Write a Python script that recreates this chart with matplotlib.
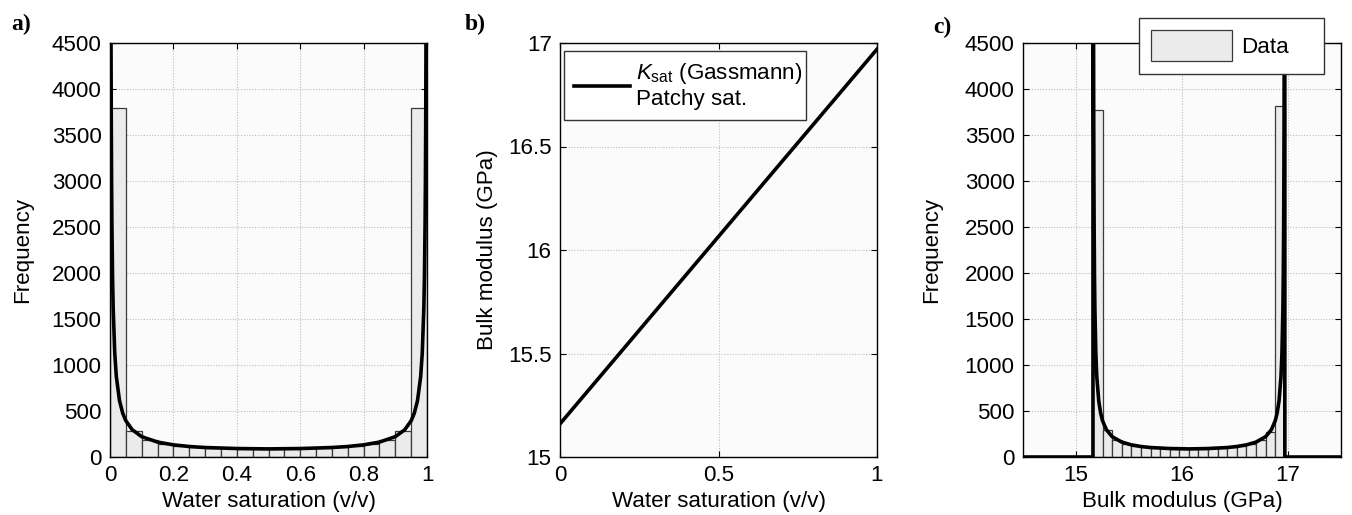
import numpy as np
import matplotlib
matplotlib.use('Agg')
import matplotlib.pyplot as plt

# ---------------- data ----------------
# a) histogram of water saturation, 20 bins on [0, 1]
sw_bin_lo, sw_bin_hi, n_bins = 0.0, 1.0, 20
sw_counts = [3790, 285, 188, 146, 122, 108, 100, 95, 91, 89,
             89, 91, 95, 100, 108, 122, 146, 188, 285, 3790]

# fitted density curve (frequency per bin) vs water saturation
curve_sw = [0.001, 0.002, 0.003, 0.004, 0.005, 0.006, 0.008, 0.01, 0.015, 0.02,
            0.03, 0.04, 0.05, 0.07, 0.1, 0.15, 0.2, 0.25, 0.3, 0.4, 0.5,
            0.6, 0.7, 0.75, 0.8, 0.85, 0.9, 0.93, 0.95, 0.96, 0.97, 0.98,
            0.985, 0.99, 0.992, 0.994, 0.995, 0.996, 0.997, 0.998, 0.999]
curve_freq = [12700, 6830, 4740, 3660, 3000, 2550, 1970, 1616, 1127, 873,
              612, 477, 394, 297, 221, 162, 132, 114, 103, 92, 88,
              92, 103, 114, 132, 162, 221, 297, 394, 477, 612, 873,
              1127, 1616, 1970, 2550, 3000, 3660, 4740, 6830, 12700]

# b) K_sat (Gassmann, patchy saturation) vs water saturation
line_sw = [0.0, 1.0]
line_k = [15.16, 16.97]

# c) histogram of bulk modulus, 20 bins on [K_min, K_max]
k_bin_lo, k_bin_hi = 15.16, 16.97
k_counts = [3775, 293, 190, 146, 122, 108, 100, 95, 91, 89,
            89, 91, 95, 100, 108, 122, 146, 188, 275, 3810]

# density curve vs bulk modulus (zero outside the support)
curve_k = [14.5, 15.16, 15.16,
           15.1618, 15.1636, 15.1654, 15.1672, 15.169, 15.1709, 15.1745, 15.1781,
           15.1872, 15.1962, 15.2143, 15.2324, 15.2505, 15.2867, 15.341, 15.4315,
           15.522, 15.6125, 15.703, 15.884, 16.065, 16.246, 16.427, 16.5175,
           16.608, 16.6985, 16.789, 16.8433, 16.8795, 16.8976, 16.9157, 16.9338,
           16.9428, 16.9519, 16.9555, 16.9591, 16.961, 16.9628, 16.9646, 16.9664,
           16.9682,
           16.97, 16.97, 17.5]
curve_k_freq = [0, 0, 20000] + curve_freq + [20000, 0, 0]

freq_ticks = [0, 500, 1000, 1500, 2000, 2500, 3000, 3500, 4000, 4500]
sw_ticks_a = [0, 0.2, 0.4, 0.6, 0.8, 1]
sw_ticklabels_a = ['0', '0.2', '0.4', '0.6', '0.8', '1']
sw_ticks_b = [0, 0.5, 1]
sw_ticklabels_b = ['0', '0.5', '1']
k_ticks_b = [15, 15.5, 16, 16.5, 17]
k_ticklabels_b = ['15', '15.5', '16', '16.5', '17']
k_ticks_c = [15, 16, 17]
k_ticklabels_c = ['15', '16', '17']

# ---------------- style ----------------
plt.rcParams['font.family'] = ['Liberation Sans', 'DejaVu Sans']
plt.rcParams['mathtext.fontset'] = 'custom'
plt.rcParams['mathtext.rm'] = 'Liberation Sans'
plt.rcParams['mathtext.it'] = 'Liberation Sans:italic'
FS = 16.1
W, H = 1352, 515
fig = plt.figure(figsize=(W / 100, H / 100), dpi=100)

AX_BG = '#fbfbfb'
BAR_FC = '#ebebeb'
BAR_EC = '#3a3a3a'
GRID_KW = dict(color='#bdbdbd', linestyle=(0, (1, 1.5)), linewidth=0.8)
CURVE_LW = 2.6


def make_ax(left_px, width_px):
    ax = fig.add_axes([left_px / W, (H - 457) / H, width_px / W, 414 / H])
    ax.set_facecolor(AX_BG)
    ax.set_axisbelow(True)
    ax.grid(True, **GRID_KW)
    ax.tick_params(direction='in', length=4, width=0.8, top=True, right=True,
                   labelsize=FS, pad=6)
    for s in ax.spines.values():
        s.set_linewidth(1.0)
        s.set_color('black')
    return ax


def fig_pix_bbox(x0, y0, x1, y1):
    return (x0 / W, 1 - y1 / H, (x1 - x0) / W, (y1 - y0) / H)


# ---------------- a) ----------------
axa = make_ax(110, 317)
edges_a = np.linspace(sw_bin_lo, sw_bin_hi, n_bins + 1)
axa.bar(edges_a[:-1], sw_counts, width=np.diff(edges_a), align='edge',
        color=BAR_FC, edgecolor=BAR_EC, linewidth=0.9, zorder=2)
axa.plot(curve_sw, curve_freq, color='black', lw=CURVE_LW, zorder=3,
         solid_joinstyle='round')
axa.set_xlim(0, 1)
axa.set_ylim(0, 4500)
axa.set_xticks(sw_ticks_a, sw_ticklabels_a)
axa.set_yticks(freq_ticks)
axa.set_xlabel('Water saturation (v/v)', fontsize=FS, labelpad=3)
axa.set_ylabel('Frequency', fontsize=FS, labelpad=13)

# ---------------- b) ----------------
axb = make_ax(560, 317)
axb.plot(line_sw, line_k, color='black', lw=CURVE_LW,
         label='$K_{\\mathrm{sat}}$ (Gassmann)\nPatchy sat.')
axb.set_xlim(0, 1)
axb.set_ylim(15, 17)
axb.set_xticks(sw_ticks_b, sw_ticklabels_b)
axb.set_yticks(k_ticks_b, k_ticklabels_b)
axb.set_xlabel('Water saturation (v/v)', fontsize=FS, labelpad=3)
axb.set_ylabel('Bulk modulus (GPa)', fontsize=FS, labelpad=7)
legb = axb.legend(loc='upper left', mode='expand',
                  bbox_to_anchor=fig_pix_bbox(564, 51, 806, 122),
                  bbox_transform=fig.transFigure, borderaxespad=0,
                  fontsize=FS, handlelength=2.5, handletextpad=0.25,
                  borderpad=0.45, fancybox=False, framealpha=1)
legb.get_frame().set_edgecolor('#333333')
legb.get_frame().set_linewidth(1.0)

# ---------------- c) ----------------
axc = make_ax(1023, 318)
edges_c = np.linspace(k_bin_lo, k_bin_hi, n_bins + 1)
axc.bar(edges_c[:-1], k_counts, width=np.diff(edges_c), align='edge',
        color=BAR_FC, edgecolor=BAR_EC, linewidth=0.9, zorder=2, label='Data')
axc.plot(curve_k, curve_k_freq, color='black', lw=CURVE_LW, zorder=3,
         solid_joinstyle='round')
axc.set_xlim(14.5, 17.5)
axc.set_ylim(0, 4500)
axc.set_xticks(k_ticks_c, k_ticklabels_c)
axc.set_yticks(freq_ticks)
axc.set_xlabel('Bulk modulus (GPa)', fontsize=FS, labelpad=3)
axc.set_ylabel('Frequency', fontsize=FS, labelpad=16)
legc = axc.legend(loc='upper left', mode='expand',
                  bbox_to_anchor=fig_pix_bbox(1139, 18, 1324, 82),
                  bbox_transform=fig.transFigure, borderaxespad=0,
                  fontsize=FS, handlelength=3.6, handleheight=1.75,
                  handletextpad=0.4, borderpad=0.55, fancybox=False,
                  framealpha=1)
legc.get_frame().set_edgecolor('#333333')
legc.get_frame().set_linewidth(1.0)
legc.set_zorder(10)

# ---------------- panel letters ----------------
for lab, xp, yp in [('a)', 11, 30), ('b)', 465, 30), ('c)', 933, 33)]:
    fig.text(xp / W, 1 - yp / H, lab, fontsize=17, fontweight='bold',
             family=['Liberation Serif', 'DejaVu Serif'], va='baseline', ha='left')

fig.savefig('out.png', dpi=100)
